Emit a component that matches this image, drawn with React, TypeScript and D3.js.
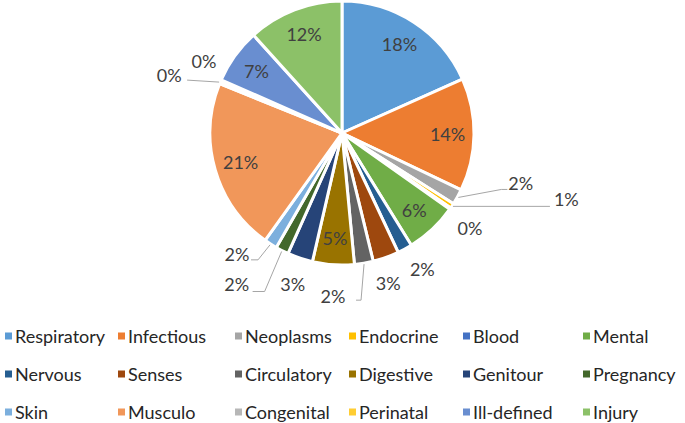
import React, { useRef, useEffect } from 'react';
import * as d3 from 'd3';

// categories and share in percent
const categories = [
  'Respiratory', 'Infectious', 'Neoplasms', 'Endocrine', 'Blood', 'Mental',
  'Nervous', 'Senses', 'Circulatory', 'Digestive', 'Genitour', 'Pregnancy',
  'Skin', 'Musculo', 'Congenital', 'Perinatal', 'Ill-defined', 'Injury'
];
const shares = [
  18.3, 13.8, 1.9, 0.6, 0.2, 6.4,
  1.8, 3.2, 2.3, 5.1, 3.1, 1.6,
  1.6, 21.2, 0.3, 0.2, 6.7, 11.7
];
const colors = [
  '#5B9BD5', '#ED7D31', '#A5A5A5', '#FFC000', '#4472C4', '#70AD47',
  '#255E91', '#9E480E', '#636363', '#997300', '#264478', '#43682B',
  '#7CAFDD', '#F1975A', '#B7B7B7', '#FFCD33', '#698ED0', '#8CC168'
];

// outside labels: offset of the text from the slice's outer point, optional leader elbow
const outside: Record<number, { dx: number; dy: number; anchor: string; leader?: [number, number][] }> = {
  2: { dx: 50, dy: -14, anchor: 'start', leader: [[43, -8], [49, -8]] },
  3: { dx: 101, dy: -7, anchor: 'start', leader: [[97, 0]] },
  4: { dx: 19, dy: 19, anchor: 'middle' },
  6: { dx: 17, dy: 19, anchor: 'middle' },
  7: { dx: 2, dy: 25, anchor: 'middle' },
  8: { dx: -31, dy: 32, anchor: 'middle', leader: [[-3, 36], [-8, 36]] },
  10: { dx: -7, dy: 25, anchor: 'middle' },
  11: { dx: -45, dy: 32, anchor: 'middle', leader: [[-17, 40], [-29, 40]] },
  12: { dx: -33, dy: 9, anchor: 'middle', leader: [[-12, 15], [-19, 15]] },
  14: { dx: -50, dy: -7, anchor: 'middle', leader: [[-32, -2]] },
  15: { dx: -16, dy: -19, anchor: 'middle' }
};

const legendCols = [5, 118, 235, 349, 463, 583];
const legendRows = [336, 374, 412];

export default function App() {
  const svgRef = useRef<SVGSVGElement>(null);

  useEffect(() => {
    const width = 685;
    const height = 423;
    const cx = 342;
    const cy = 133;
    const r = 132;

    const svg = d3.select(svgRef.current).attr('width', width).attr('height', height);
    svg.selectAll('*').remove();

    const data = categories.map((c, i) => ({ name: c, value: shares[i], i }));
    const pie = d3.pie<any>().sort(null).value(d => d.value);
    const arcs = pie(data);
    const arc = d3.arc<any>().innerRadius(0).outerRadius(r);

    const g = svg.append('g').attr('transform', `translate(${cx},${cy})`);

    g.selectAll('path')
      .data(arcs)
      .join('path')
      .attr('d', arc)
      .attr('fill', d => colors[d.index])
      .attr('stroke', '#fff')
      .attr('stroke-width', 3)
      .attr('stroke-linejoin', 'round');

    const font = "Lato, sans-serif";
    const labelArc = d3.arc<any>().innerRadius(r * 0.8).outerRadius(r * 0.8);
    const edgeArc = d3.arc<any>().innerRadius(r + 1).outerRadius(r + 1);

    arcs.forEach(a => {
      const txt = `${Math.round(a.data.value)}%`;
      const o = outside[a.index];
      if (!o) {
        const [x, y] = labelArc.centroid(a);
        g.append('text')
          .attr('x', x).attr('y', y)
          .attr('text-anchor', 'middle')
          .attr('dominant-baseline', 'central')
          .attr('font-family', font)
          .attr('font-size', 18)
          .attr('fill', '#404040')
          .text(txt);
        return;
      }
      const [ex, ey] = edgeArc.centroid(a);
      if (o.leader) {
        const pts: [number, number][] = [[ex, ey], ...o.leader.map(([lx, ly]) => [ex + lx, ey + ly] as [number, number])];
        g.append('path')
          .attr('d', d3.line()(pts))
          .attr('fill', 'none')
          .attr('stroke', '#a6a6a6')
          .attr('stroke-width', 1);
      }
      g.append('text')
        .attr('x', ex + o.dx).attr('y', ey + o.dy)
        .attr('text-anchor', o.anchor)
        .attr('dominant-baseline', 'central')
        .attr('font-family', font)
        .attr('font-size', 18)
        .attr('fill', '#404040')
        .text(txt);
    });

    // legend
    const legend = svg.append('g');
    categories.forEach((c, i) => {
      const x = legendCols[i % 6];
      const y = legendRows[Math.floor(i / 6)];
      legend.append('rect')
        .attr('x', x).attr('y', y - 3.5)
        .attr('width', 7).attr('height', 7)
        .attr('fill', colors[i]);
      legend.append('text')
        .attr('x', x + 10).attr('y', y)
        .attr('dominant-baseline', 'central')
        .attr('font-family', font)
        .attr('font-size', 18)
        .attr('fill', '#262626')
        .text(c);
    });
  }, []);

  return (
    <div style={{ position: 'absolute', left: 0, top: 0, width: 685, height: 423, background: '#fff' }}>
      <svg ref={svgRef} style={{ display: 'block' }} />
    </div>
  );
}
